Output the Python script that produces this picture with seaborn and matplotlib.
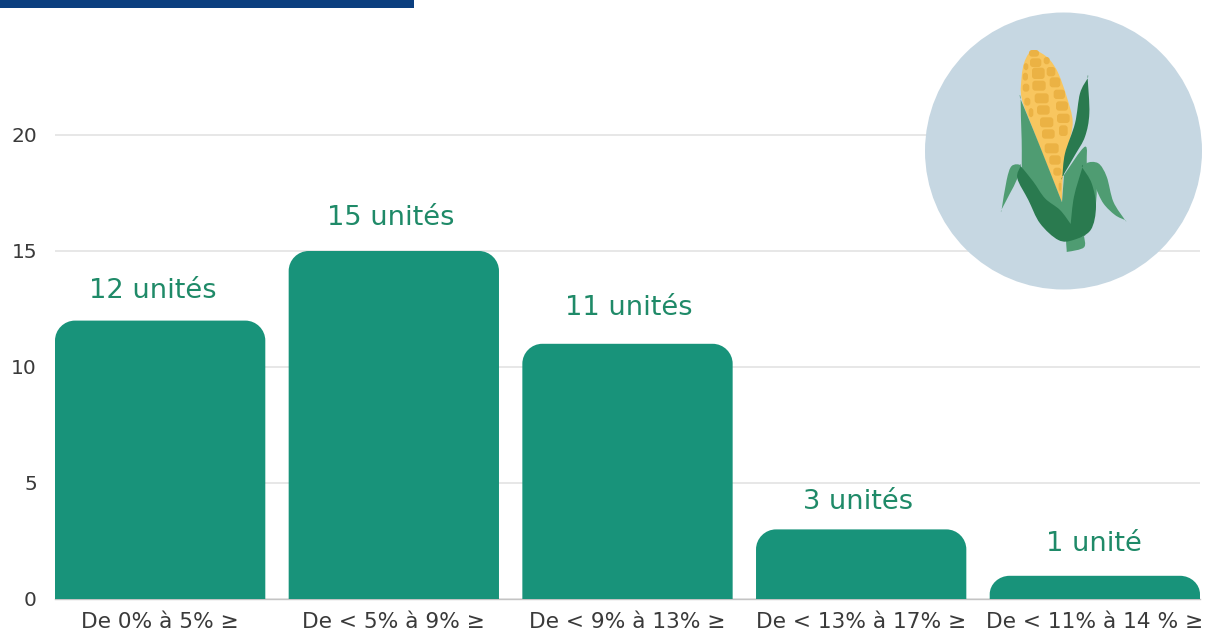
import numpy as np
import pandas as pd
import matplotlib
matplotlib.use("Agg")
import matplotlib.pyplot as plt
from matplotlib.path import Path
from matplotlib.patches import PathPatch, Circle, Rectangle, FancyBboxPatch
import seaborn as sns

# data
categories = ["De 0% à 5% ≥", "De < 5% à 9% ≥", "De < 9% à 13% ≥", "De < 13% à 17% ≥", "De < 11% à 14 % ≥"]
values = [12, 15, 11, 3, 1]
bar_labels = ["12 unités", "15 unités", "11 unités", "3 unités", "1 unité"]
y_ticks = [0, 5, 10, 15, 20]

GREEN = "#18937a"
TEXT_GREEN = "#1f8a68"
W, H = 1207, 630

sns.set_theme(style="white")
plt.rcParams["font.family"] = ["DejaVu Sans"]

fig = plt.figure(figsize=(W / 100, H / 100), dpi=100, facecolor="white")
ax = fig.add_axes([55 / W, (H - 599) / H, 1145 / W, 533 / H])

df = pd.DataFrame({"classe": categories, "unites": values})
sns.barplot(data=df, x="classe", y="unites", color=GREEN, saturation=1, width=0.9, ax=ax, zorder=3)

ax.set_xlim(-0.45, 4.45)
ax.set_ylim(0, 533 / 23.2)
ax.set_xlabel("")
ax.set_ylabel("")
ax.set_yticks(y_ticks)
ax.grid(axis="y", color="#e3e3e3", linewidth=1.2, zorder=0)
ax.set_axisbelow(True)
sns.despine(ax=ax, left=True, top=True, right=True)
ax.spines["bottom"].set_color("#c4c4c4")
ax.spines["bottom"].set_linewidth(1.0)
ax.tick_params(axis="y", length=0, pad=13, labelsize=14.5, labelcolor="#3a3a3a")
ax.tick_params(axis="x", length=0, pad=9, labelsize=15.6, labelcolor="#3a3a3a")


def rounded_top(x0, x1, top, rx, ry):
    # bar with the two upper corners rounded, lower ones square
    k = 0.45
    verts = [(x0, 0), (x0, top - ry),
             (x0, top - ry * k), (x0 + rx * k, top), (x0 + rx, top),
             (x1 - rx, top),
             (x1 - rx * k, top), (x1, top - ry * k), (x1, top - ry),
             (x1, 0), (x0, 0)]
    codes = [Path.MOVETO, Path.LINETO,
             Path.CURVE4, Path.CURVE4, Path.CURVE4,
             Path.LINETO,
             Path.CURVE4, Path.CURVE4, Path.CURVE4,
             Path.LINETO, Path.CLOSEPOLY]
    return Path(verts, codes)


# px to data scale for the corner radius
rx = 20 / 233.7
ry = 20 / 23.2
label_shift = [(-5, 21), (-2, 24), (1, 26), (-2, 20), (-1, 23)]
for bar, txt, shift in zip(ax.patches, bar_labels, label_shift):
    x0, w, h = bar.get_x(), bar.get_width(), bar.get_height()
    ax.add_patch(PathPatch(rounded_top(x0, x0 + w, h, rx, min(ry, h * 0.8)),
                           facecolor=bar.get_facecolor(), edgecolor="none", zorder=3))
    bar.set_visible(False)
    ax.annotate(txt, (x0 + w / 2, h), xytext=shift, textcoords="offset points",
                ha="center", va="center", fontsize=19.6, color=TEXT_GREEN)

# overlay in pixel coords for the banner and the corn picture
ov = fig.add_axes([0, 0, 1, 1], facecolor="none", zorder=5)
ov.set_xlim(0, W)
ov.set_ylim(H, 0)
ov.axis("off")

ov.add_patch(Rectangle((0, 0), 414, 8, facecolor="#0b3f7f", edgecolor="none"))
ov.add_patch(Circle((1063.5, 151), 138.5, facecolor="#c6d7e2", edgecolor="none"))


def blob(points, color, z):
    # closed catmull-rom shape, a repeated point makes a sharp tip
    # points are read on the 3x crop that starts at (1000, 40)
    p = np.array(points, dtype=float) / 3 + [1000, 40]
    n = len(p)
    verts = [p[0]]
    codes = [Path.MOVETO]
    for i in range(n):
        p0, p1, p2, p3 = p[i - 1], p[i], p[(i + 1) % n], p[(i + 2) % n]
        verts += [p1 + (p2 - p0) / 6, p2 - (p3 - p1) / 6, p2]
        codes += [Path.CURVE4] * 3
    ov.add_patch(PathPatch(Path(verts, codes), facecolor=color, edgecolor="none", zorder=z))


LEAF = "#4f9c72"
DARK = "#2a7a4f"
COB = "#f8c65f"
KERNEL = "#ebb244"

# droop leaves and stem
blob([(62, 378), (35, 378), (20, 420), (5, 508), (5, 508), (30, 460), (50, 420)], LEAF, 2)
blob([(260, 370), (295, 370), (320, 410), (340, 485), (375, 540), (375, 540), (345, 525), (310, 490), (285, 440), (265, 400)], LEAF, 2)
blob([(198, 595), (198, 595), (252, 588), (252, 588), (252, 622), (205, 635), (200, 630)], LEAF, 2)

# cob
blob([(100, 30), (125, 40), (150, 60), (175, 100), (200, 170), (218, 245), (205, 320), (190, 400), (186, 487), (186, 487),
      (135, 360), (100, 270), (65, 175), (65, 110), (72, 70), (85, 42)], COB, 4)

kernels = [(102, 40, 30, 20), (107, 68, 34, 26), (140, 62, 18, 22), (78, 80, 14, 22), (115, 100, 38, 34),
           (153, 95, 26, 28), (76, 110, 16, 24), (117, 137, 40, 30), (165, 127, 32, 30), (78, 143, 20, 24),
           (125, 175, 42, 30), (178, 163, 34, 28), (82, 185, 18, 24), (130, 210, 38, 28), (186, 198, 36, 28),
           (93, 218, 14, 28), (140, 247, 40, 30), (190, 235, 38, 28), (145, 282, 38, 28), (190, 272, 26, 32),
           (155, 325, 42, 30), (165, 360, 34, 28), (172, 395, 24, 24), (180, 440, 8, 30)]
for kx, ky, kw, kh in kernels:
    ov.add_patch(FancyBboxPatch((1000 + (kx - kw / 2) / 3, 40 + (ky - kh / 2) / 3), kw / 3, kh / 3,
                                boxstyle="round,pad=0,rounding_size=3", facecolor=KERNEL,
                                edgecolor="none", zorder=5))

# husk
blob([(62, 178), (62, 178), (100, 270), (140, 370), (186, 487), (186, 487), (192, 405), (192, 405), (255, 320), (262, 380),
      (290, 450), (270, 560), (212, 600), (160, 520), (75, 420), (65, 300)], LEAF, 6)
blob([(263, 115), (263, 115), (268, 220), (255, 290), (225, 345), (187, 410), (187, 410), (195, 340), (225, 250), (240, 160)], DARK, 7)
blob([(62, 378), (62, 378), (100, 425), (135, 475), (180, 510), (212, 552), (212, 552), (222, 470), (247, 383), (247, 383),
      (275, 430), (288, 500), (272, 570), (220, 600), (175, 600), (120, 550), (85, 480), (52, 415)], DARK, 7)

fig.savefig("out.png", dpi=100)
